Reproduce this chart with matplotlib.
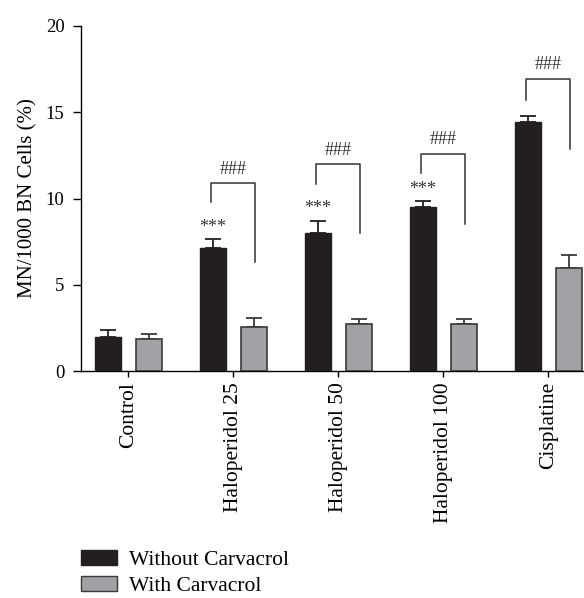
import matplotlib.pyplot as plt
import numpy as np
from matplotlib.patches import Patch

# Du lieu doc tu bieu do
nhom = ["Control", "Haloperidol 25", "Haloperidol 50", "Haloperidol 100", "Cisplatine"]
khong_carvacrol = [2.0, 7.15, 8.0, 9.5, 14.45]
khong_carvacrol_err = [0.4, 0.5, 0.7, 0.35, 0.35]
co_carvacrol = [1.85, 2.55, 2.7, 2.7, 6.0]
co_carvacrol_err = [0.3, 0.5, 0.3, 0.3, 0.7]

# chu thich y nghia thong ke
sao = ["", "***", "***", "***", ""]
ngoac_dinh = [None, 10.9, 12.0, 12.6, 16.95]       # muc ngang cua ngoac ###
ngoac_trai = [None, 9.8, 10.85, 11.45, 15.7]       # day chan trai
ngoac_phai = [None, 6.3, 8.0, 8.55, 12.85]         # day chan phai

plt.rcParams['font.family'] = ['Liberation Serif', 'DejaVu Serif']
den = '#231f20'
xam = '#a2a1a6'
co_chu = 15.5

fig = plt.figure(figsize=(5.84, 5.98), dpi=100)
ax = fig.add_axes([81 / 584, 1 - 371 / 598, 1 - 81 / 584, (371 - 26) / 598])

x = np.arange(len(nhom))
rong = 0.25
lech = 0.195

ax.bar(x - lech, khong_carvacrol, rong, color=den, edgecolor=den, linewidth=1, zorder=3)
ax.bar(x + lech, co_carvacrol, rong, color=xam, edgecolor='#3a3a3a', linewidth=1.2, zorder=3)
ax.errorbar(x - lech, khong_carvacrol, yerr=[np.zeros(len(x)), khong_carvacrol_err],
            fmt='none', ecolor=den, elinewidth=1.3, capsize=6, capthick=1.3, zorder=2)
ax.errorbar(x + lech, co_carvacrol, yerr=[np.zeros(len(x)), co_carvacrol_err],
            fmt='none', ecolor='#3a3a3a', elinewidth=1.3, capsize=6, capthick=1.3, zorder=2)

for i in range(len(nhom)):
    if sao[i]:
        ax.text(x[i] - lech, khong_carvacrol[i] + khong_carvacrol_err[i] + 0.2, sao[i],
                ha='center', va='bottom', fontsize=13, color='#333333')
    if ngoac_dinh[i] is not None:
        xl = x[i] - 0.215
        xr = x[i] + 0.205
        ax.plot([xl, xl, xr, xr], [ngoac_trai[i], ngoac_dinh[i], ngoac_dinh[i], ngoac_phai[i]],
                color='#333333', linewidth=1.1, clip_on=False)
        ax.text((xl + xr) / 2, ngoac_dinh[i] + 0.3, "###", ha='center', va='bottom',
                fontsize=13, color='#333333')

ax.set_xlim(-0.45, 4.34)
ax.set_ylim(0, 20)
ax.set_yticks([0, 5, 10, 15, 20])
ax.set_xticks(x)
ax.set_xticklabels(nhom, rotation=90, fontsize=co_chu)
ax.tick_params(axis='y', labelsize=13.5, length=5.8, width=1, pad=6, direction='out')
ax.tick_params(axis='x', length=4.5, width=1, direction='out')
ax.set_ylabel('MN/1000 BN Cells (%)', fontsize=15, labelpad=6)

for s in ['top', 'right']:
    ax.spines[s].set_visible(False)
for s in ['left', 'bottom']:
    ax.spines[s].set_linewidth(1)

chu_giai = [Patch(facecolor=den, edgecolor=den, label='Without Carvacrol'),
            Patch(facecolor=xam, edgecolor='#3a3a3a', label='With Carvacrol')]
fig.legend(handles=chu_giai, loc='upper left', bbox_to_anchor=(72 / 584, 1 - 541 / 598),
           frameon=False, fontsize=co_chu, handlelength=1.67, handleheight=0.7,
           handletextpad=0.6, labelspacing=0.3, borderpad=0.4, borderaxespad=0)

fig.savefig('out.png', dpi=100)
